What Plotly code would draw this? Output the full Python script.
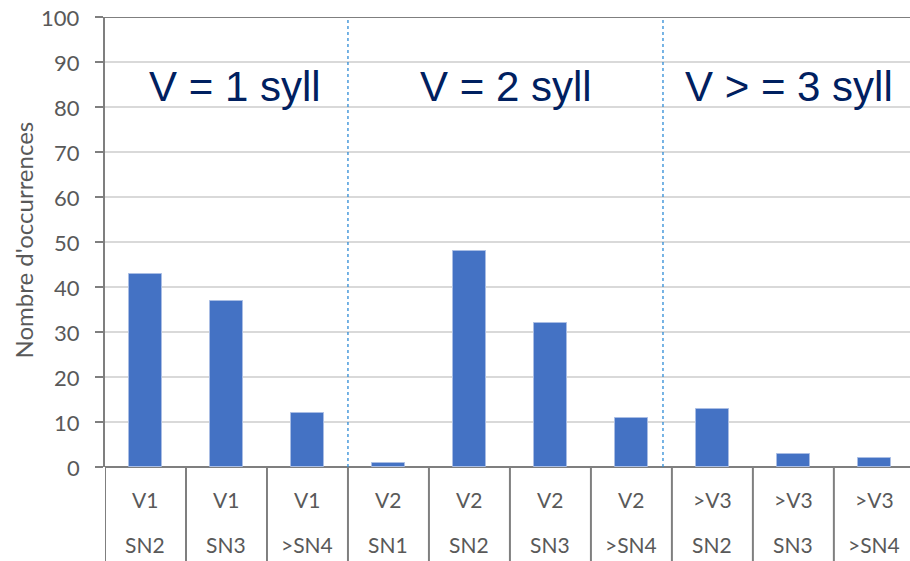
import plotly.graph_objects as go

# Bar data: verb length / subject-noun position combinations
verb_labels = ["V1", "V1", "V1", "V2", "V2", "V2", "V2", ">V3", ">V3", ">V3"]
sn_labels = ["SN2", "SN3", ">SN4", "SN1", "SN2", "SN3", ">SN4", "SN2", "SN3", ">SN4"]
counts = [43, 37, 12, 1, 48, 32, 11, 13, 3, 2]

group_titles = ["V = 1 syll", "V = 2 syll", "V > = 3 syll"]
group_centers = [1.1, 4.45, 7.95]         # category-axis positions of the titles
group_separators = [2.5, 6.39]            # dashed dividers between groups

y_ticks = list(range(0, 101, 10))
y_title = "Nombre d'occurrences"

categories = [f"{v} {s}" for v, s in zip(verb_labels, sn_labels)]
idx = list(range(len(categories)))

AXIS_GREY = "#7f7f7f"
TEXT_GREY = "#595959"
TICK_FONT = "Lato"

fig = go.Figure()
fig.add_trace(go.Bar(
    x=idx,
    y=counts,
    width=0.41,
    marker=dict(color="#4472C4", line=dict(color="#a9bde4", width=1)),
    hoverinfo="x+y",
))

# group dividers
for xs in group_separators:
    fig.add_shape(type="line", xref="x", yref="y", x0=xs, x1=xs, y0=0, y1=100.3,
                  line=dict(color="#2E8BD6", width=1.3, dash="dot"), layer="above")

# group titles
for cx, t in zip(group_centers, group_titles):
    fig.add_annotation(x=cx, y=84.5, xref="x", yref="y", text=t, showarrow=False,
                       font=dict(family="Liberation Sans", size=42, color="#002060"),
                       xanchor="center", yanchor="middle")

# two-row category labels below the axis
for i, (v, s) in enumerate(zip(verb_labels, sn_labels)):
    fig.add_annotation(x=i, y=-0.0733, xref="x", yref="paper", text=v, showarrow=False,
                       font=dict(family=TICK_FONT, size=21, color=TEXT_GREY),
                       xanchor="center", yanchor="middle")
    fig.add_annotation(x=i, y=-0.1733, xref="x", yref="paper", text=s, showarrow=False,
                       font=dict(family=TICK_FONT, size=21, color=TEXT_GREY),
                       xanchor="center", yanchor="middle")

# category divider ticks spanning both label rows
for b in [i - 0.5 for i in range(len(categories) + 1)]:
    fig.add_shape(type="line", xref="x", yref="paper", x0=b, x1=b, y0=0, y1=-0.22,
                  line=dict(color=AXIS_GREY, width=2))

# top border line at 100
fig.add_shape(type="line", xref="paper", yref="y", x0=0, x1=1, y0=100, y1=100,
              line=dict(color=AXIS_GREY, width=2), layer="above")

# value-axis labels, set a little further from the axis
for v in y_ticks:
    fig.add_annotation(x=-0.0286, y=v, xref="paper", yref="y", text=str(v),
                       showarrow=False, xanchor="right", yanchor="middle",
                       font=dict(family=TICK_FONT, size=22, color=TEXT_GREY))

# vertical axis title
fig.add_annotation(x=-0.101, y=0.505, xref="paper", yref="paper", text=y_title,
                   textangle=-90, showarrow=False, xanchor="center", yanchor="middle",
                   font=dict(family=TICK_FONT, size=24, color=TEXT_GREY))

fig.update_layout(
    width=910, height=561,
    margin=dict(l=105, r=0, t=17, b=94),
    paper_bgcolor="white", plot_bgcolor="white",
    showlegend=False,
    bargap=0,
    xaxis=dict(
        range=[-0.5, 9.44], showticklabels=False, showgrid=False, zeroline=False,
        showline=False, ticks="", fixedrange=True,
    ),
    yaxis=dict(
        range=[0, 100], tickvals=y_ticks, ticks="outside", ticklen=8, tickwidth=2,
        tickcolor=AXIS_GREY, showline=True, linecolor=AXIS_GREY, linewidth=2,
        gridcolor="#d9d9d9", gridwidth=1.5, zeroline=True, zerolinecolor=AXIS_GREY,
        zerolinewidth=2, showticklabels=False,
    ),
)

fig.write_html("out.html")
